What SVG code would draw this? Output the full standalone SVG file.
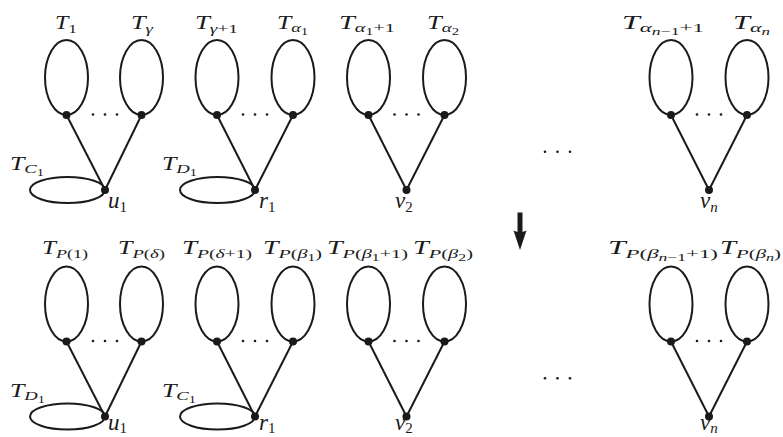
<svg xmlns="http://www.w3.org/2000/svg" width="783" height="437" viewBox="0 0 783 437">
<style>
.lbl{font-family:"Liberation Serif","Times New Roman",serif;font-style:italic;font-size:18px;fill:#1a1a1a}
.sb{font-size:13px}
.ss{font-size:10px}
.up{font-style:normal}
.nl{font-family:"Liberation Serif","Times New Roman",serif;font-style:italic;font-size:23px;fill:#1a1a1a}
.nb{font-size:15px}
.loop{fill:none;stroke:#1a1a1a;stroke-width:2}
.edge{stroke:#1a1a1a;stroke-width:2;fill:none}
.dot{fill:#1a1a1a}
.md{fill:#1a1a1a}
</style>
<rect width="783" height="437" fill="#ffffff"/>

<g id="connectors">
  <line class="edge" x1="66.5" y1="115" x2="105" y2="190"/>
  <line class="edge" x1="141.5" y1="115" x2="105" y2="190"/>
  <line class="edge" x1="217" y1="115" x2="255" y2="190"/>
  <line class="edge" x1="293" y1="115" x2="255" y2="190"/>
  <line class="edge" x1="368.5" y1="115" x2="406.5" y2="190"/>
  <line class="edge" x1="444.5" y1="115" x2="406.5" y2="190"/>
  <line class="edge" x1="671" y1="115" x2="709" y2="190"/>
  <line class="edge" x1="747" y1="115" x2="709" y2="190"/>
  <line class="edge" x1="66.5" y1="341.5" x2="105" y2="416.5"/>
  <line class="edge" x1="141.5" y1="341.5" x2="105" y2="416.5"/>
  <line class="edge" x1="217" y1="341.5" x2="255" y2="416.5"/>
  <line class="edge" x1="293" y1="341.5" x2="255" y2="416.5"/>
  <line class="edge" x1="368.5" y1="341.5" x2="406.5" y2="416.5"/>
  <line class="edge" x1="444.5" y1="341.5" x2="406.5" y2="416.5"/>
  <line class="edge" x1="671" y1="341.5" x2="709" y2="416.5"/>
  <line class="edge" x1="747" y1="341.5" x2="709" y2="416.5"/>
</g>

<!-- top row -->
<g id="u1-top">
  <ellipse class="loop" cx="66.5" cy="77.5" rx="21.5" ry="37.5"/>
  <ellipse class="loop" cx="141.5" cy="77.5" rx="21.5" ry="37.5"/>
  <ellipse class="loop" cx="67.5" cy="190" rx="37.5" ry="13"/>
  <circle class="dot" cx="66.5" cy="115" r="4"/>
  <circle class="dot" cx="141.5" cy="115" r="4"/>
  <circle class="dot" cx="105" cy="190" r="4"/>
  <circle class="md" cx="93" cy="114.5" r="1.3"/><circle class="md" cx="105" cy="114.5" r="1.3"/><circle class="md" cx="117" cy="114.5" r="1.3"/>
  <text class="lbl" x="55" y="28.5" textLength="22" lengthAdjust="spacingAndGlyphs">T<tspan class="sb up" dy="4">1</tspan></text>
  <text class="lbl" x="131" y="28.5" textLength="22" lengthAdjust="spacingAndGlyphs">T<tspan class="sb" dy="4">γ</tspan></text>
  <text class="lbl" x="10" y="170" textLength="34" lengthAdjust="spacingAndGlyphs">T<tspan class="sb" dy="3">C</tspan><tspan class="ss up" dy="3">1</tspan></text>
  <text class="nl" x="108" y="208">u<tspan class="nb up" dy="4">1</tspan></text>
</g>

<g id="r1-top">
  <ellipse class="loop" cx="217" cy="77.5" rx="21.5" ry="37.5"/>
  <ellipse class="loop" cx="293" cy="77.5" rx="21.5" ry="37.5"/>
  <ellipse class="loop" cx="217.5" cy="190" rx="37.5" ry="13"/>
  <circle class="dot" cx="217" cy="115" r="4"/>
  <circle class="dot" cx="293" cy="115" r="4"/>
  <circle class="dot" cx="255" cy="190" r="4"/>
  <circle class="md" cx="243" cy="114.5" r="1.3"/><circle class="md" cx="255" cy="114.5" r="1.3"/><circle class="md" cx="267" cy="114.5" r="1.3"/>
  <text class="lbl" x="195" y="28.5" textLength="43" lengthAdjust="spacingAndGlyphs">T<tspan class="sb" dy="4">γ<tspan class="up">+1</tspan></tspan></text>
  <text class="lbl" x="277" y="28.5" textLength="31" lengthAdjust="spacingAndGlyphs">T<tspan class="sb" dy="3">α</tspan><tspan class="ss up" dy="3">1</tspan></text>
  <text class="lbl" x="162" y="170" textLength="35" lengthAdjust="spacingAndGlyphs">T<tspan class="sb" dy="3">D</tspan><tspan class="ss up" dy="3">1</tspan></text>
  <text class="nl" x="259" y="208">r<tspan class="nb up" dy="4">1</tspan></text>
</g>

<g id="v2-top">
  <ellipse class="loop" cx="368.5" cy="77.5" rx="21.5" ry="37.5"/>
  <ellipse class="loop" cx="444.5" cy="77.5" rx="21.5" ry="37.5"/>
  <circle class="dot" cx="368.5" cy="115" r="4"/>
  <circle class="dot" cx="444.5" cy="115" r="4"/>
  <circle class="dot" cx="406.5" cy="190" r="4"/>
  <circle class="md" cx="394.5" cy="114.5" r="1.3"/><circle class="md" cx="406.5" cy="114.5" r="1.3"/><circle class="md" cx="418.5" cy="114.5" r="1.3"/>
  <text class="lbl" x="339" y="28.5" textLength="56" lengthAdjust="spacingAndGlyphs">T<tspan class="sb" dy="3">α</tspan><tspan class="ss up" dy="3">1</tspan><tspan class="sb up" dy="-3">+1</tspan></text>
  <text class="lbl" x="427" y="28.5" textLength="32" lengthAdjust="spacingAndGlyphs">T<tspan class="sb" dy="3">α</tspan><tspan class="ss up" dy="3">2</tspan></text>
  <text class="nl" x="395" y="208">v<tspan class="nb up" dy="4">2</tspan></text>
</g>

<g id="vn-top">
  <ellipse class="loop" cx="671" cy="77.5" rx="21.5" ry="37.5"/>
  <ellipse class="loop" cx="747" cy="77.5" rx="21.5" ry="37.5"/>
  <circle class="dot" cx="671" cy="115" r="4"/>
  <circle class="dot" cx="747" cy="115" r="4"/>
  <circle class="dot" cx="709" cy="190" r="4"/>
  <circle class="md" cx="697" cy="114.5" r="1.3"/><circle class="md" cx="709" cy="114.5" r="1.3"/><circle class="md" cx="721" cy="114.5" r="1.3"/>
  <text class="lbl" x="622" y="28.5" textLength="82" lengthAdjust="spacingAndGlyphs">T<tspan class="sb" dy="3">α</tspan><tspan class="ss" dy="3">n<tspan class="up">−1</tspan></tspan><tspan class="sb up" dy="-3">+1</tspan></text>
  <text class="lbl" x="733" y="28.5" textLength="37" lengthAdjust="spacingAndGlyphs">T<tspan class="sb" dy="3">α</tspan><tspan class="ss" dy="3">n</tspan></text>
  <text class="nl" x="700" y="208">v<tspan class="nb" dy="4">n</tspan></text>
</g>

<g id="middle-dots-top">
  <circle class="md" cx="545" cy="151.7" r="1.3"/><circle class="md" cx="557.5" cy="151.7" r="1.3"/><circle class="md" cx="570" cy="151.7" r="1.3"/>
</g>

<g id="arrow">
  <rect x="517.5" y="212.5" width="5" height="20" fill="#1a1a1a"/>
  <path d="M513.5,230.5 Q520,233.5 526.5,230.5 L520,250 Z" fill="#1a1a1a"/>
</g>

<!-- bottom row -->
<g id="u1-bottom">
  <ellipse class="loop" cx="66.5" cy="304" rx="21.5" ry="37.5"/>
  <ellipse class="loop" cx="141.5" cy="304" rx="21.5" ry="37.5"/>
  <ellipse class="loop" cx="67.5" cy="416.5" rx="37.5" ry="13"/>
  <circle class="dot" cx="66.5" cy="341.5" r="4"/>
  <circle class="dot" cx="141.5" cy="341.5" r="4"/>
  <circle class="dot" cx="105" cy="416.5" r="4"/>
  <circle class="md" cx="93" cy="341" r="1.3"/><circle class="md" cx="105" cy="341" r="1.3"/><circle class="md" cx="117" cy="341" r="1.3"/>
  <text class="lbl" x="42" y="254" textLength="46" lengthAdjust="spacingAndGlyphs">T<tspan class="sb" dy="4">P<tspan class="up">(1)</tspan></tspan></text>
  <text class="lbl" x="118" y="254" textLength="47" lengthAdjust="spacingAndGlyphs">T<tspan class="sb" dy="4">P<tspan class="up">(</tspan>δ<tspan class="up">)</tspan></tspan></text>
  <text class="lbl" x="10" y="396.5" textLength="35" lengthAdjust="spacingAndGlyphs">T<tspan class="sb" dy="3">D</tspan><tspan class="ss up" dy="3">1</tspan></text>
  <text class="nl" x="108" y="429.5">u<tspan class="nb up" dy="3">1</tspan></text>
</g>

<g id="r1-bottom">
  <ellipse class="loop" cx="217" cy="304" rx="21.5" ry="37.5"/>
  <ellipse class="loop" cx="293" cy="304" rx="21.5" ry="37.5"/>
  <ellipse class="loop" cx="217.5" cy="416.5" rx="37.5" ry="13"/>
  <circle class="dot" cx="217" cy="341.5" r="4"/>
  <circle class="dot" cx="293" cy="341.5" r="4"/>
  <circle class="dot" cx="255" cy="416.5" r="4"/>
  <circle class="md" cx="243" cy="341" r="1.3"/><circle class="md" cx="255" cy="341" r="1.3"/><circle class="md" cx="267" cy="341" r="1.3"/>
  <text class="lbl" x="182" y="254" textLength="70" lengthAdjust="spacingAndGlyphs">T<tspan class="sb" dy="4">P<tspan class="up">(</tspan>δ<tspan class="up">+1)</tspan></tspan></text>
  <text class="lbl" x="263" y="254" textLength="59" lengthAdjust="spacingAndGlyphs">T<tspan class="sb" dy="4">P<tspan class="up">(</tspan>β</tspan><tspan class="ss up" dy="3">1</tspan><tspan class="sb up" dy="-3">)</tspan></text>
  <text class="lbl" x="162" y="396.5" textLength="34" lengthAdjust="spacingAndGlyphs">T<tspan class="sb" dy="3">C</tspan><tspan class="ss up" dy="3">1</tspan></text>
  <text class="nl" x="259" y="429.5">r<tspan class="nb up" dy="3">1</tspan></text>
</g>

<g id="v2-bottom">
  <ellipse class="loop" cx="368.5" cy="304" rx="21.5" ry="37.5"/>
  <ellipse class="loop" cx="444.5" cy="304" rx="21.5" ry="37.5"/>
  <circle class="dot" cx="368.5" cy="341.5" r="4"/>
  <circle class="dot" cx="444.5" cy="341.5" r="4"/>
  <circle class="dot" cx="406.5" cy="416.5" r="4"/>
  <circle class="md" cx="394.5" cy="341" r="1.3"/><circle class="md" cx="406.5" cy="341" r="1.3"/><circle class="md" cx="418.5" cy="341" r="1.3"/>
  <text class="lbl" x="327" y="254" textLength="81" lengthAdjust="spacingAndGlyphs">T<tspan class="sb" dy="4">P<tspan class="up">(</tspan>β</tspan><tspan class="ss up" dy="3">1</tspan><tspan class="sb up" dy="-3">+1)</tspan></text>
  <text class="lbl" x="413" y="254" textLength="60" lengthAdjust="spacingAndGlyphs">T<tspan class="sb" dy="4">P<tspan class="up">(</tspan>β</tspan><tspan class="ss up" dy="3">2</tspan><tspan class="sb up" dy="-3">)</tspan></text>
  <text class="nl" x="395" y="429.5">v<tspan class="nb up" dy="3">2</tspan></text>
</g>

<g id="vn-bottom">
  <ellipse class="loop" cx="671" cy="304" rx="21.5" ry="37.5"/>
  <ellipse class="loop" cx="747" cy="304" rx="21.5" ry="37.5"/>
  <circle class="dot" cx="671" cy="341.5" r="4"/>
  <circle class="dot" cx="747" cy="341.5" r="4"/>
  <circle class="dot" cx="709" cy="416.5" r="4"/>
  <circle class="md" cx="697" cy="341" r="1.3"/><circle class="md" cx="709" cy="341" r="1.3"/><circle class="md" cx="721" cy="341" r="1.3"/>
  <text class="lbl" x="608" y="254" textLength="110" lengthAdjust="spacingAndGlyphs">T<tspan class="sb" dy="4">P<tspan class="up">(</tspan>β</tspan><tspan class="ss" dy="3">n<tspan class="up">−1</tspan></tspan><tspan class="sb up" dy="-3">+1)</tspan></text>
  <text class="lbl" x="720" y="254" textLength="61" lengthAdjust="spacingAndGlyphs">T<tspan class="sb" dy="4">P<tspan class="up">(</tspan>β</tspan><tspan class="ss" dy="3">n</tspan><tspan class="sb up" dy="-3">)</tspan></text>
  <text class="nl" x="700" y="429.5">v<tspan class="nb" dy="3">n</tspan></text>
</g>

<g id="middle-dots-bottom">
  <circle class="md" cx="545" cy="378.3" r="1.3"/><circle class="md" cx="557.5" cy="378.3" r="1.3"/><circle class="md" cx="570" cy="378.3" r="1.3"/>
</g>
</svg>
